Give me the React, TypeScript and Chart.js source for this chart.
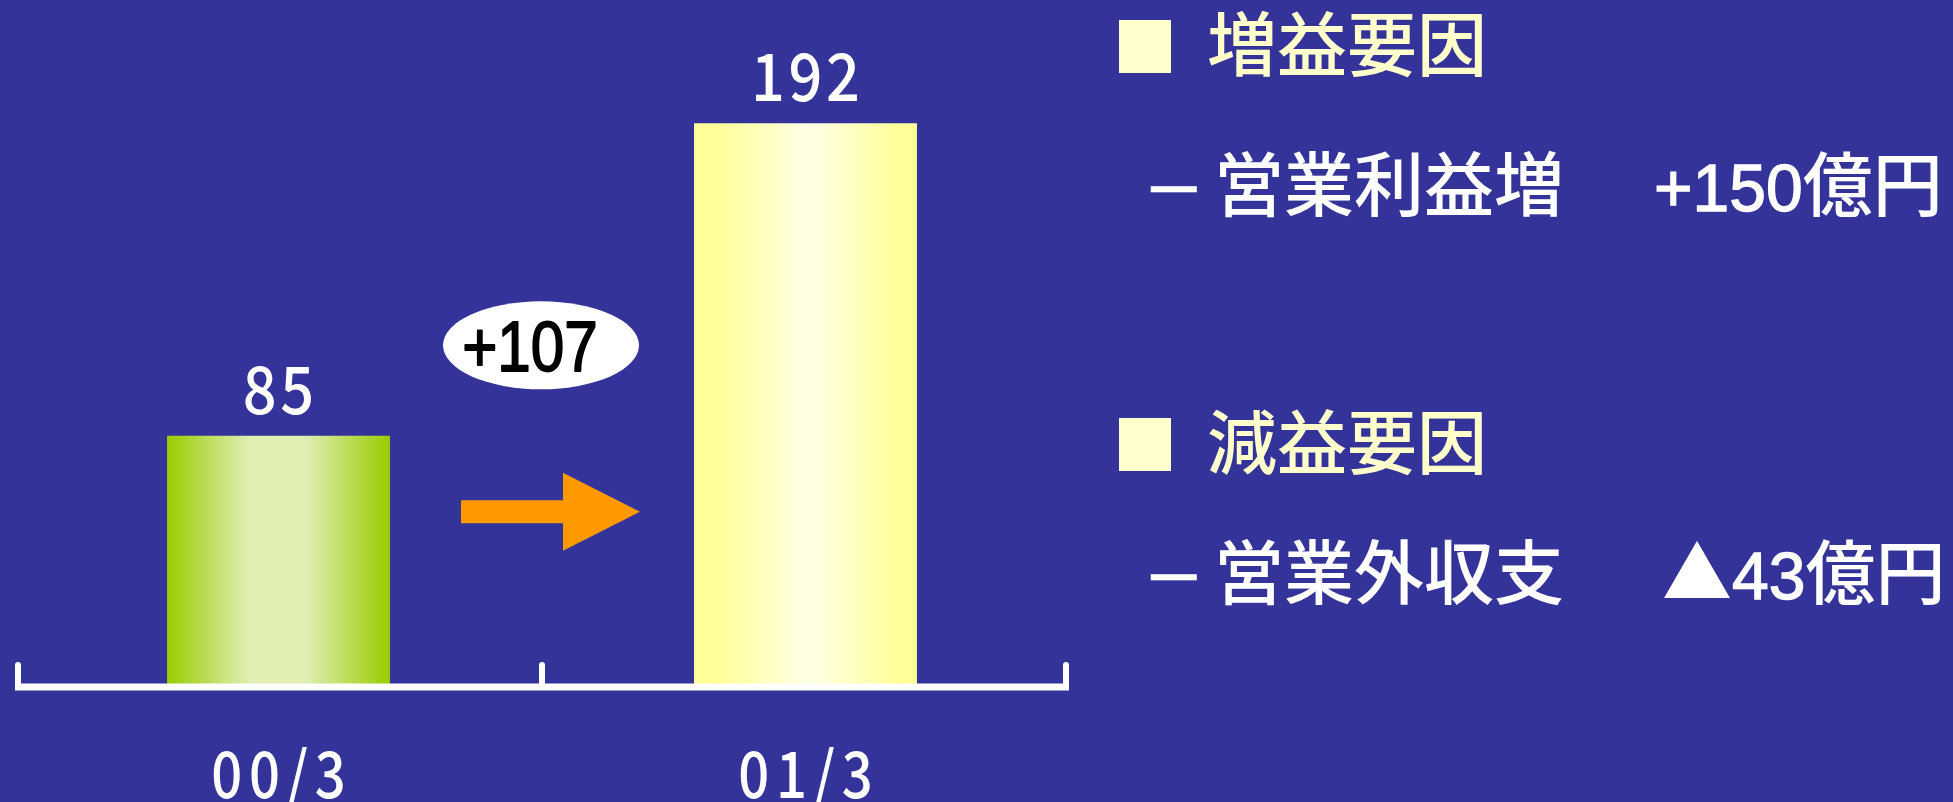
import React, { useEffect, useRef } from 'react';
import { Chart, registerables } from 'chart.js';

Chart.register(...registerables);

// ---- data ----
const categories = ['00/3', '01/3'];
const profits = [85, 192];
const yMax = 200;
const gainTitle = '増益要因';
const gainItems = ['営業利益増'];
const gainAmounts = ['+150'];
const lossTitle = '減益要因';
const lossItems = ['営業外収支'];
const lossAmounts = ['▲43'];
const unit = '億円';

const BG = '#333399';
const NUM_FONT = '"Noto Sans CJK JP", "Noto Sans", sans-serif';

const gradientStops: Array<Array<[number, string]>> = [
  [[0, '#99CC00'], [0.37, '#E0EEB4'], [0.62, '#E0EEB4'], [1, '#99CC00']],
  [[0, '#FFFF99'], [0.1, '#FFFF99'], [0.52, '#FFFFE6'], [0.92, '#FFFF99'], [1, '#FFFF99']],
];
const BAR_PCT = 0.423;

function drawNarrow(ctx: CanvasRenderingContext2D, text: string, x: number, y: number, font: string, color: string, sx: number, spacing: number, stroke = 0) {
  ctx.save();
  ctx.font = font;
  (ctx as any).letterSpacing = spacing + 'px';
  ctx.fillStyle = color;
  ctx.strokeStyle = color;
  ctx.textAlign = 'left';
  ctx.textBaseline = 'alphabetic';
  const w = ctx.measureText(text).width - spacing;
  ctx.translate(x, y);
  ctx.scale(sx, 1);
  ctx.fillText(text, -w / 2, 0);
  if (stroke > 0) {
    ctx.lineWidth = stroke;
    ctx.lineJoin = 'round';
    ctx.strokeText(text, -w / 2, 0);
  }
  ctx.restore();
}

const decorPlugin = {
  id: 'decor',
  afterDatasetsDraw(chart: any) {
    const ctx: CanvasRenderingContext2D = chart.ctx;
    const xs = chart.scales.x;
    const ys = chart.scales.y;
    const { left, right, bottom } = chart.chartArea;
    const mid = (xs.getPixelForValue(0) + xs.getPixelForValue(1)) / 2;

    // axis line + upward ticks
    ctx.save();
    ctx.strokeStyle = '#FFFFFF';
    ctx.lineWidth = 7;
    ctx.lineCap = 'butt';
    ctx.beginPath();
    ctx.moveTo(left, bottom + 3);
    ctx.lineTo(right, bottom + 3);
    ctx.stroke();
    ctx.lineWidth = 6;
    ctx.lineCap = 'round';
    [left + 3, mid, right - 3].forEach((tx) => {
      ctx.beginPath();
      ctx.moveTo(tx, bottom - 19);
      ctx.lineTo(tx, bottom + 3);
      ctx.stroke();
    });
    ctx.restore();

    // value labels
    const meta = chart.getDatasetMeta(0);
    meta.data.forEach((bar: any, i: number) => {
      drawNarrow(ctx, String(profits[i]), bar.x, bar.y - 22, `500 66px ${NUM_FONT}`, '#FFFFFF', 0.9, 4);
    });

    // category labels
    categories.forEach((c, i) => {
      drawNarrow(ctx, c, xs.getPixelForValue(i), bottom + 114, `500 64px ${NUM_FONT}`, '#FFFFFF', 0.85, 8);
    });

    // arrow
    const ay = ys.getPixelForValue(59);
    ctx.save();
    ctx.fillStyle = '#FF9900';
    ctx.beginPath();
    ctx.moveTo(mid - 81, ay - 11.5);
    ctx.lineTo(mid + 21, ay - 11.5);
    ctx.lineTo(mid + 21, ay - 39);
    ctx.lineTo(mid + 98, ay);
    ctx.lineTo(mid + 21, ay + 39);
    ctx.lineTo(mid + 21, ay + 11.5);
    ctx.lineTo(mid - 81, ay + 11.5);
    ctx.closePath();
    ctx.fill();
    ctx.restore();

    // delta bubble
    const ey = ys.getPixelForValue(116);
    ctx.save();
    ctx.fillStyle = '#FFFFFF';
    ctx.beginPath();
    ctx.ellipse(mid - 1, ey, 98, 44, 0, 0, Math.PI * 2);
    ctx.fill();
    ctx.restore();
    const delta = profits[1] - profits[0];
    drawNarrow(ctx, (delta >= 0 ? '+' : '▲') + Math.abs(delta), mid - 12, ey + 26, '400 70px "Liberation Sans", Arial, sans-serif', '#000000', 0.86, 0, 1.8);
  },
};

const textBase: React.CSSProperties = {
  position: 'absolute',
  fontFamily: '"Noto Sans CJK JP", sans-serif',
  fontSize: 70,
  lineHeight: '70px',
  fontWeight: 500,
  whiteSpace: 'nowrap',
  margin: 0,
};

const latinStyle: React.CSSProperties = {
  fontFamily: '"Liberation Sans", Arial, sans-serif',
  fontSize: 66,
  fontWeight: 400,
  WebkitTextStroke: '1.3px #FFFFFF',
};

function Amount({ text }: { text: string }) {
  // CJK symbols (▲) keep the gothic face, digits and signs use the sans face
  const parts: React.ReactNode[] = [];
  let buf = '';
  const flush = (k: number) => {
    if (buf) parts.push(<span key={'l' + k} style={latinStyle}>{buf}</span>);
    buf = '';
  };
  Array.from(text).forEach((ch, k) => {
    if (/[0-9+\-.]/.test(ch)) buf += ch;
    else {
      flush(k);
      parts.push(<span key={'c' + k}>{ch}</span>);
    }
  });
  flush(999);
  return <>{parts}</>;
}

export default function App() {
  const ref = useRef<HTMLCanvasElement>(null);
  useEffect(() => {
    if (!ref.current) return;
    const chart = new Chart(ref.current, {
      type: 'bar',
      data: {
        labels: categories,
        datasets: [
          {
            data: profits,
            barPercentage: BAR_PCT,
            categoryPercentage: 1,
            borderWidth: 0,
            backgroundColor: (c: any) => {
              const ch = c.chart;
              const xs = ch.scales?.x;
              if (c.dataIndex === undefined || !xs || !ch.chartArea) return '#FFFF99';
              const cx = xs.getPixelForValue(c.dataIndex);
              const w = (xs.width / categories.length) * BAR_PCT;
              const g = ch.ctx.createLinearGradient(cx - w / 2, 0, cx + w / 2, 0);
              gradientStops[c.dataIndex % gradientStops.length].forEach(([o, col]) => g.addColorStop(o, col));
              return g;
            },
          },
        ],
      },
      options: {
        responsive: false,
        animation: false,
        layout: { padding: { left: 15, right: 884, top: 100, bottom: 118 } },
        scales: {
          x: { display: false, offset: true },
          y: { display: false, min: 0, max: yMax },
        },
        plugins: { legend: { display: false }, tooltip: { enabled: false } },
      },
      plugins: [decorPlugin],
    });
    return () => chart.destroy();
  }, []);

  const dash = <span style={{ ...latinStyle, fontSize: 82, WebkitTextStroke: '0.4px #FFFFFF' }}>–</span>;

  return (
    <div style={{ position: 'fixed', left: 0, top: 0, width: 1953, height: 802, background: BG, overflow: 'hidden' }}>
      <canvas ref={ref} width={1953} height={802} style={{ position: 'absolute', left: 0, top: 0 }} />
      <div style={{ position: 'absolute', left: 1119, top: 20, width: 52, height: 53, background: '#FFFFCC' }} />
      <div style={{ ...textBase, left: 1207, top: 6, color: '#FFFFCC' }}>{gainTitle}</div>
      <div style={{ ...textBase, left: 1151, top: 145, color: '#FFFFFF' }}>{dash}</div>
      <div style={{ ...textBase, left: 1214, top: 146, color: '#FFFFFF' }}>{gainItems[0]}</div>
      <div style={{ ...textBase, left: 1654, top: 146, color: '#FFFFFF' }}>
        <Amount text={gainAmounts[0]} />{unit}
      </div>
      <div style={{ position: 'absolute', left: 1119, top: 418, width: 52, height: 53, background: '#FFFFCC' }} />
      <div style={{ ...textBase, left: 1207, top: 404, color: '#FFFFCC' }}>{lossTitle}</div>
      <div style={{ ...textBase, left: 1151, top: 533, color: '#FFFFFF' }}>{dash}</div>
      <div style={{ ...textBase, left: 1214, top: 534, color: '#FFFFFF' }}>{lossItems[0]}</div>
      <div style={{ ...textBase, left: 1662, top: 534, color: '#FFFFFF' }}>
        <Amount text={lossAmounts[0]} />{unit}
      </div>
    </div>
  );
}
